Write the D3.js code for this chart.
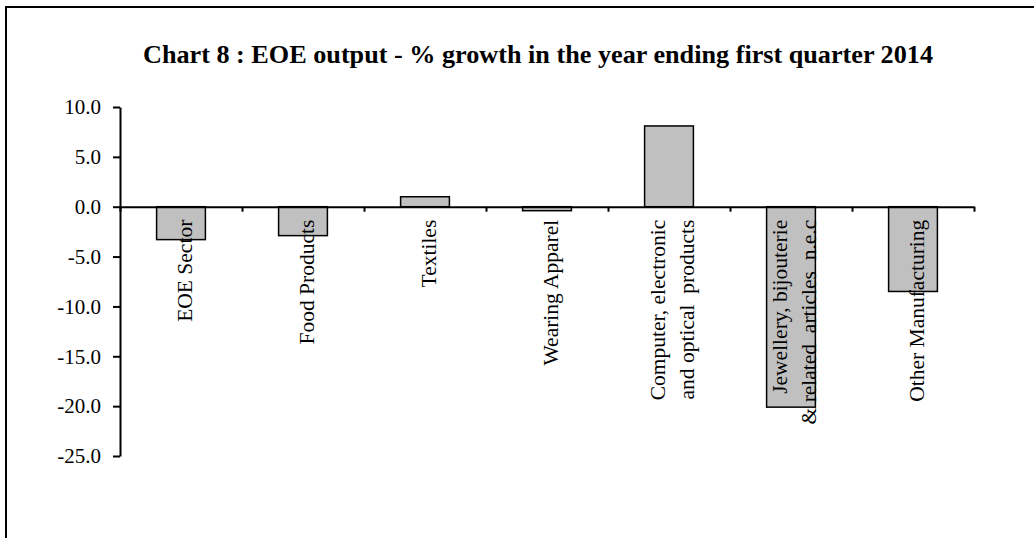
<!DOCTYPE html>
<html>
<head>
<meta charset="utf-8">
<script src="https://cdn.jsdelivr.net/npm/d3@7"></script>
<style>
  body { margin: 0; background: #fff; }
  svg { display: block; font-family: "Liberation Serif", "Times New Roman", serif; }
</style>
</head>
<body>
<div id="chart"></div>
<script>
// chart data
const categories = [
  "EOE Sector",
  "Food Products",
  "Textiles",
  "Wearing Apparel",
  "Computer, electronic and optical products",
  "Jewellery, bijouterie & related articles n.e.c",
  "Other Manufacturing"
];
// label lines as printed under the axis
const labelLines = [
  ["EOE Sector"],
  ["Food Products"],
  ["Textiles"],
  ["Wearing Apparel"],
  ["Computer, electronic", "and optical  products"],
  ["Jewellery, bijouterie", "& related  articles  n.e.c"],
  ["Other Manufacturing"]
];
const growth = [-3.3, -2.9, 1.0, -0.4, 8.1, -20.1, -8.5];
const yTicks = [10, 5, 0, -5, -10, -15, -20, -25];
const title = "Chart 8 : EOE output - % growth in the year ending first quarter 2014";

const width = 1034, height = 538;
const margin = { top: 107, right: 60, bottom: 82, left: 120 };

const svg = d3.select("#chart")
  .append("svg")
  .attr("width", width)
  .attr("height", height);

// outer frame (only top and left edges show)
svg.append("path")
  .attr("d", `M6,${height} L6,7 L${width},7`)
  .attr("fill", "none")
  .attr("stroke", "#000")
  .attr("stroke-width", 2);

svg.append("text")
  .attr("x", 538)
  .attr("y", 63)
  .attr("text-anchor", "middle")
  .attr("font-weight", "bold")
  .attr("font-size", 26.2)
  .text(title);

const x = d3.scaleBand()
  .domain(categories)
  .range([margin.left, width - margin.right])
  .paddingInner(0.6)
  .paddingOuter(0.3);

const y = d3.scaleLinear()
  .domain([-25, 10])
  .range([height - margin.bottom, margin.top]);

// boundaries between categories for the x ticks
const xEdge = d3.scaleLinear()
  .domain([0, categories.length])
  .range([margin.left, width - margin.right]);

// bars
svg.selectAll(".bar")
  .data(categories)
  .join("rect")
  .attr("class", "bar")
  .attr("x", (d) => x(d))
  .attr("width", x.bandwidth())
  .attr("y", (d, i) => y(Math.max(0, growth[i])))
  .attr("height", (d, i) => Math.abs(y(growth[i]) - y(0)))
  .attr("fill", "#c0c0c0")
  .attr("stroke", "#000")
  .attr("stroke-width", 1.5);

// y axis
const yAxis = svg.append("g")
  .attr("transform", `translate(${margin.left},0)`)
  .attr("font-family", null)
  .call(d3.axisLeft(y)
    .tickValues(yTicks)
    .tickFormat((d) => d.toFixed(1))
    .tickSize(7)
    .tickSizeOuter(0)
    .tickPadding(12));
yAxis.attr("font-family", "Liberation Serif, Times New Roman, serif");
yAxis.selectAll("text")
  .attr("font-size", 21)
  .attr("fill", "#000");
yAxis.selectAll("line, path").attr("stroke", "#000").attr("stroke-width", 2);

// x axis at zero
const xAxis = svg.append("g")
  .attr("transform", `translate(0,${y(0)})`)
  .call(d3.axisBottom(xEdge)
    .tickValues(d3.range(categories.length + 1))
    .tickFormat("")
    .tickSize(5)
    .tickSizeOuter(0));
xAxis.selectAll("line, path").attr("stroke", "#000").attr("stroke-width", 2);

// rotated category labels hanging under the axis
const labels = svg.selectAll(".xlabel")
  .data(categories)
  .join("text")
  .attr("class", "xlabel")
  .attr("font-size", 21.5)
  .attr("fill", "#000")
  .attr("text-anchor", "end")
  .attr("transform", (d) => `translate(${x(d) + x.bandwidth() / 2},${y(0) + 13}) rotate(-90)`);

labels.each(function (d, i) {
  const lines = labelLines[i];
  const offs = lines.length === 1 ? [11] : [-4, 25];
  d3.select(this).selectAll("tspan")
    .data(lines)
    .join("tspan")
    .attr("x", 0)
    .attr("y", (t, j) => offs[j])
    .attr("xml:space", "preserve")
    .style("white-space", "pre")
    .text((t) => t);
});
</script>
</body>
</html>
